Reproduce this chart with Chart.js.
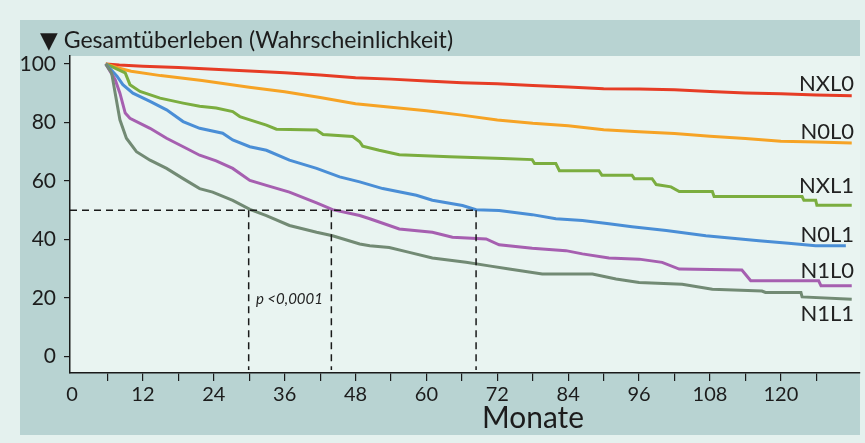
<!DOCTYPE html>
<html>
<head>
<meta charset="utf-8">
<script src="https://cdn.jsdelivr.net/npm/chart.js@4"></script>
<style>
html,body{margin:0;padding:0;background:#e4f1ee;}
#wrap{width:865px;height:443px;position:relative;}
</style>
</head>
<body>
<div id="wrap"><canvas id="c" width="865" height="443"></canvas></div>
<script>
// ---- data (months, survival %) ----
const nxl0Months = [5.7, 8, 12, 18, 24, 30, 36, 42, 48, 54, 60, 66, 72, 78, 84, 90, 96, 102, 108, 114, 120, 126, 132];
const nxl0Values = [100, 99.6, 99.2, 98.8, 98.2, 97.6, 97.0, 96.2, 95.3, 94.8, 94.2, 93.6, 93.2, 92.6, 92.1, 91.5, 91.4, 91.2, 90.6, 90.1, 89.8, 89.4, 89.1];

const n0l0Months = [5.7, 8, 10, 15, 22, 30, 36, 42, 48, 54, 60, 66, 72, 78, 84, 90, 96, 102, 108, 114, 120, 126, 132];
const n0l0Values = [100, 98.5, 97.5, 96, 94.3, 92, 90.5, 88.5, 86.4, 85.2, 84, 82.5, 80.8, 79.7, 78.9, 77.5, 76.8, 76.2, 75.3, 74.5, 73.6, 73.3, 73.0];

const nxl1Months = [5.7, 9, 9.8, 11.5, 14.9, 18.8, 21.6, 24.4, 27.2, 28.4, 30.1, 32.9, 34.6, 41.4, 42.5, 47.5, 48.7, 49.2, 52, 55.4, 63.9, 72.9, 77.9, 78.3, 81.9, 82.5, 89.2, 89.7, 94.8, 95.2, 98.2, 98.9, 101.4, 102.8, 108.4, 108.7, 123.6, 123.9, 125.9, 126.1, 132];
const nxl1Values = [100, 96.9, 92.9, 90.6, 88.3, 86.6, 85.5, 84.9, 83.7, 82.0, 80.9, 79.1, 77.7, 77.4, 75.9, 75.2, 73.4, 71.9, 70.5, 69, 68.3, 67.7, 67.3, 66, 66, 63.5, 63.5, 62, 62, 60.8, 60.8, 58.8, 58, 56.4, 56.4, 54.7, 54.7, 53.4, 53.4, 51.7, 51.7];

const n0l1Months = [5.7, 7.6, 8.6, 10.3, 13.2, 16, 18.8, 21.6, 25.5, 27.2, 30.1, 32.9, 36.8, 41.4, 45.3, 48.7, 52.6, 58.3, 61, 66.1, 68.4, 72.3, 77.9, 81.9, 86.4, 90.9, 94.8, 100.6, 107.3, 116.3, 121.3, 125.9, 131];
const n0l1Values = [100, 95.8, 92.9, 90.0, 87.2, 84.3, 80.3, 78.0, 76.3, 74, 71.7, 70.5, 67.1, 64.3, 61.4, 59.7, 57.4, 55.1, 53.4, 51.6, 50.2, 49.9, 48.5, 47.1, 46.5, 45.4, 44.4, 43.1, 41.3, 39.6, 38.7, 37.9, 37.9];

const n1l0Months = [5.7, 7.3, 8.1, 9, 9.8, 13.2, 16, 19.4, 21.6, 24.4, 27.2, 30.1, 32.9, 36.8, 41.4, 44.1, 48.7, 50.4, 55.4, 61, 64.4, 70.1, 72.3, 77.9, 83.6, 86.4, 90.9, 96, 99.9, 102.8, 113.4, 114.9, 126.4, 126.8, 132];
const n1l0Values = [100, 94.6, 90.0, 83.2, 81.4, 78, 74.6, 71.1, 68.8, 66.9, 64.3, 60.2, 58.5, 56.2, 52.5, 50.2, 48.2, 47.1, 43.6, 42.5, 40.8, 40.2, 38.2, 37.0, 36.2, 35.1, 33.7, 33.3, 32.2, 29.9, 29.6, 25.9, 25.9, 24.2, 24.2];

const n1l1Months = [5.7, 6.7, 7.3, 8.1, 9.2, 10.9, 13.2, 16, 18.8, 21.6, 23.8, 27.2, 30.1, 32.9, 36.8, 41.4, 44.1, 48.7, 50.4, 53.7, 57.1, 61, 66.7, 70.6, 74, 79.6, 88.1, 90.9, 92.1, 96, 103.3, 108.4, 116.8, 117.4, 123.4, 123.6, 132];
const n1l1Values = [100, 96.9, 90, 80.9, 74.6, 70, 67.1, 64.3, 60.8, 57.4, 56.2, 53.4, 50.3, 48.2, 44.8, 42.5, 41.3, 38.5, 37.9, 37.3, 35.6, 33.7, 32.2, 31.0, 29.9, 28.2, 28.2, 27.0, 26.5, 25.3, 24.7, 23.0, 22.4, 21.9, 21.9, 20.4, 19.6];

const seriesNames = ["NXL0", "N0L0", "NXL1", "N0L1", "N1L0", "N1L1"];
const labelValues = [90.8, 74.3, 55.8, 39.3, 26.9, 12.2];   // where each end label sits (y value)
const xTickValues = [0, 6, 12, 18, 24, 30, 36, 42, 48, 54, 60, 66, 72, 78, 84, 90, 96, 102, 108, 114, 120, 126];
const yTickValues = [0, 20, 40, 60, 80, 100];
const medianLevel = 50;
const medianMonths = [29.9, 43.9, 68.4];
const titleText = "▼ Gesamtüberleben (Wahrscheinlichkeit)";
const xAxisTitle = "Monate";
const pText = "p <0,0001";

// ---- build ----
const colors = ["#e63c25", "#f6a325", "#7bad3f", "#4a8ed6", "#a65fb0", "#728a74"];
const monthsList = [nxl0Months, n0l0Months, nxl1Months, n0l1Months, n1l0Months, n1l1Months];
const valuesList = [nxl0Values, n0l0Values, nxl1Values, n0l1Values, n1l0Values, n1l1Values];
const FONT = "Lato, 'Open Sans', 'DejaVu Sans', sans-serif";

const datasets = seriesNames.map((name, i) => ({
  label: name,
  data: monthsList[i].map((m, j) => ({x: m, y: valuesList[i][j]})),
  borderColor: colors[i],
  borderWidth: 3,
  pointRadius: 0,
  tension: 0,
  fill: false
})).reverse();

function fitText(ctx, text, baseSize, targetWidth, style) {
  ctx.font = (style || '') + baseSize + "px " + FONT;
  const w = ctx.measureText(text).width;
  const size = baseSize * targetWidth / w;
  ctx.font = (style || '') + size.toFixed(2) + "px " + FONT;
}

const decor = {
  id: 'decor',
  beforeDraw(chart) {
    const ctx = chart.ctx, a = chart.chartArea;
    ctx.save();
    ctx.fillStyle = '#e4f1ee';
    ctx.fillRect(0, 0, chart.width, chart.height);
    ctx.fillStyle = '#b8d3d2';
    ctx.fillRect(20, 20, a.right - 20, 415);
    ctx.fillStyle = '#e9f4f1';
    ctx.fillRect(a.left, a.top, a.right - a.left, a.bottom - a.top);
    ctx.restore();
  },
  afterDatasetsDraw(chart) {
    const ctx = chart.ctx, a = chart.chartArea;
    const xs = chart.scales.x, ys = chart.scales.y;
    ctx.save();
    // median dashed lines
    ctx.strokeStyle = '#1a1a1a';
    ctx.lineWidth = 1.5;
    ctx.setLineDash([7, 5]);
    const y50 = ys.getPixelForValue(medianLevel);
    const xEnd = xs.getPixelForValue(medianMonths[medianMonths.length - 1]);
    ctx.beginPath();
    ctx.moveTo(a.left, y50); ctx.lineTo(xEnd, y50);
    medianMonths.forEach(m => {
      const px = xs.getPixelForValue(m);
      ctx.moveTo(px, y50); ctx.lineTo(px, a.bottom - 3);
    });
    ctx.stroke();
    ctx.setLineDash([]);
    // p value
    ctx.fillStyle = '#222';
    ctx.textAlign = 'center';
    ctx.textBaseline = 'alphabetic';
    fitText(ctx, pText, 14, 67, 'italic ');
    ctx.fillText(pText, xs.getPixelForValue(36.8), ys.getPixelForValue(18));
    // end labels
    ctx.font = "22px " + FONT;
    ctx.textAlign = 'right';
    seriesNames.forEach((n, i) => {
      ctx.fillText(n, xs.getPixelForValue(132.4), ys.getPixelForValue(labelValues[i]));
    });
    ctx.restore();
  },
  afterDraw(chart) {
    const ctx = chart.ctx;
    ctx.save();
    ctx.fillStyle = '#1c1c1c';
    ctx.textBaseline = 'alphabetic';
    ctx.textAlign = 'left';
    fitText(ctx, titleText, 20, 413);
    ctx.fillText(titleText, 40, 48);
    ctx.textAlign = 'center';
    fitText(ctx, xAxisTitle, 27, 102);
    ctx.fillText(xAxisTitle, 533, 428);
    ctx.restore();
  }
};

new Chart(document.getElementById('c'), {
  type: 'line',
  data: {datasets},
  options: {
    responsive: false,
    animation: false,
    events: [],
    layout: {padding: {top: 56, right: 5, left: 0, bottom: 0}},
    plugins: {legend: {display: false}, tooltip: {enabled: false}, title: {display: false}},
    scales: {
      x: {
        type: 'linear',
        min: -0.35,
        max: 133.4,
        afterBuildTicks: s => { s.ticks = xTickValues.map(v => ({value: v})); },
        afterFit: s => { s.height = 70; },
        border: {display: true, color: '#1a1a1a', width: 1.5},
        grid: {drawOnChartArea: false, drawTicks: true, tickLength: 8, lineWidth: 1.2,
               tickColor: c => (c.tick && c.tick.value === 0) ? 'rgba(0,0,0,0)' : '#1a1a1a'},
        ticks: {autoSkip: false, maxRotation: 0, padding: 2, color: '#1c1c1c',
                font: {family: FONT, size: 20},
                callback: v => (v % 12 === 0) ? String(v) : ''}
      },
      y: {
        min: -5.6,
        max: 102.7,
        afterBuildTicks: s => { s.ticks = yTickValues.map(v => ({value: v})); },
        afterFit: s => { s.width = 70; },
        border: {display: true, color: '#1a1a1a', width: 1.5},
        grid: {drawOnChartArea: false, drawTicks: true, tickLength: 6, lineWidth: 1.2, tickColor: '#1a1a1a'},
        ticks: {padding: 8, color: '#1c1c1c', font: {family: FONT, size: 21}}
      }
    }
  },
  plugins: [decor]
});
</script>
</body>
</html>
